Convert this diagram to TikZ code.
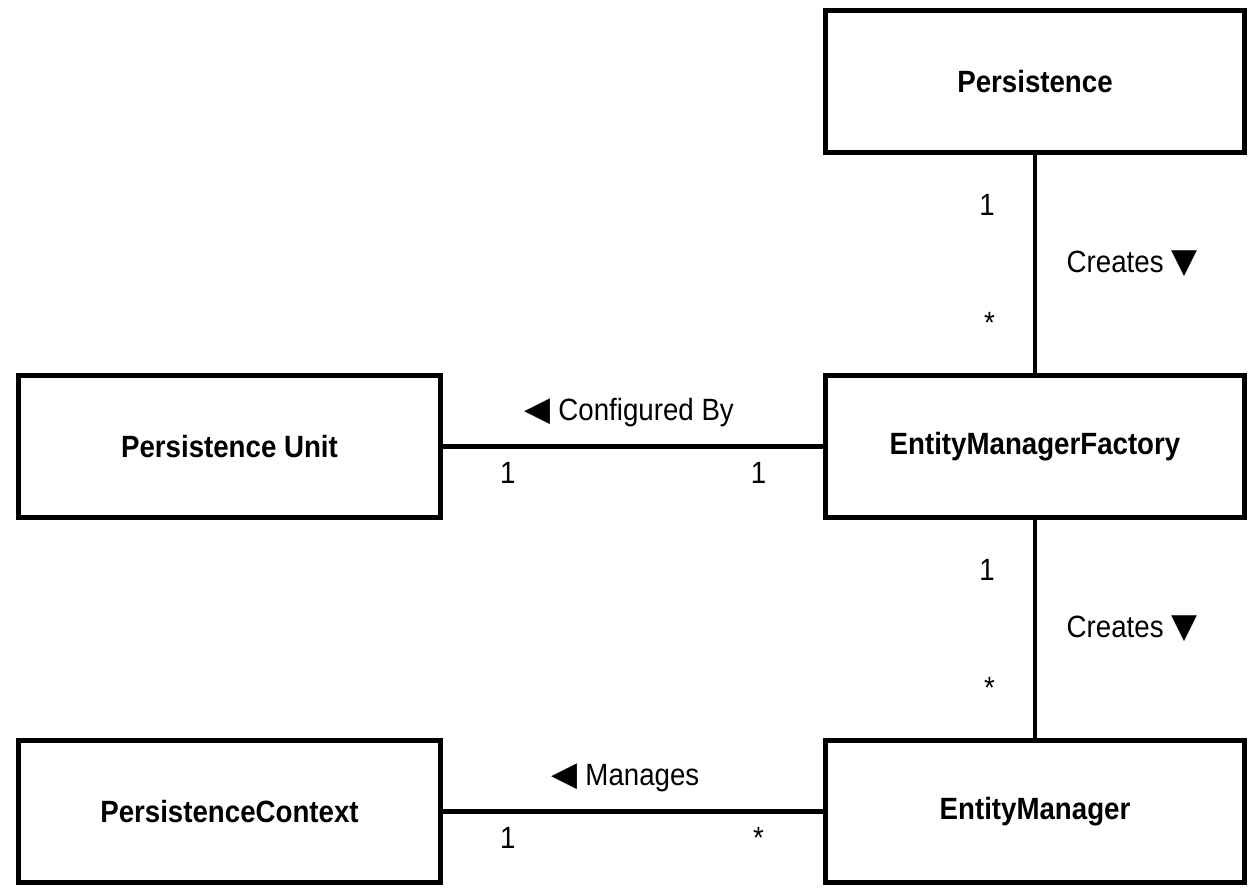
\documentclass[tikz,border=0pt]{standalone}
\usepackage{fontspec}
\setmainfont{Liberation Sans}[FakeStretch=0.9]
\newfontfamily\symfont{DejaVu Sans}[Scale=1.1]
\usetikzlibrary{positioning}

\tikzset{
    entity/.style={draw, line width=2.8pt, minimum width=8.38cm, minimum height=2.84cm,
        font=\bfseries\fontsize{17.5}{20}\selectfont},
    mult/.style={font=\fontsize{17.5}{20}\selectfont, inner sep=1pt},
    role/.style={font=\fontsize{17.5}{20}\selectfont, inner sep=1pt}
}

\begin{document}
\begin{tikzpicture}[
    x=0.02cm, y=-0.02cm,
    line width=2.8pt,
    node distance={4.36cm and 7.6cm}
]
\useasboundingbox (0,0) rectangle (1248,887);

\node[entity] (emf) at (1035,446.5) {EntityManagerFactory};
\node[entity] (pers) [above=of emf] {Persistence};
\node[entity] (em) [below=of emf] {EntityManager};
\node[entity, minimum width=8.45cm] (pu) [left=of emf] {Persistence Unit};
\node[entity, minimum width=8.45cm] (pc) [left=of em] {PersistenceContext};

\path[-]
    (pers) edge node [mult, pos=.23, left=0.72cm] {1}
                node [mult, pos=.77, left=0.72cm] {*}
                node [role, right=0.55cm] {Creates {\symfont ▼}} (emf)
    (emf) edge node [mult, pos=.23, left=0.72cm] {1}
               node [mult, pos=.77, left=0.72cm] {*}
               node [role, right=0.55cm] {Creates {\symfont ▼}} (em)
    (pu) edge node [role, pos=.49, above=0.3cm] {{\symfont ◀} Configured By}
              node [mult, pos=.17, below=0.24cm] {1}
              node [mult, pos=.83, below=0.24cm] {1} (emf)
    (pc) edge node [role, pos=.48, above=0.3cm] {{\symfont ◀} Manages}
              node [mult, pos=.17, below=0.24cm] {1}
              node [mult, pos=.83, below=0.24cm] {*} (em)
    ;

\end{tikzpicture}
\end{document}
